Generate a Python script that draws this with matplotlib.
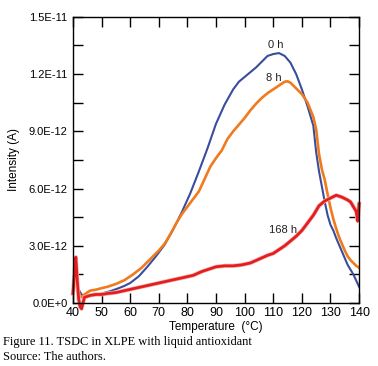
"""TSDC curves for XLPE with liquid antioxidant."""

import matplotlib

matplotlib.use("Agg")
import matplotlib.pyplot as plt
from matplotlib.ticker import MultipleLocator

plt.rcParams["font.family"] = ["Liberation Sans", "DejaVu Sans"]

# 0 h
temp_0h = [40, 41, 42, 43, 44, 46, 48, 50, 53, 56, 58, 60, 63, 66, 69, 72, 75, 78, 81,
           84, 87, 90, 93, 96, 98, 100, 102, 104, 106, 108, 110, 112, 114, 116, 118,
           120, 122, 124, 125, 126, 127, 128, 129, 130, 131, 132, 134, 136, 138, 140]
cur_0h = [1.2, 1.0, 0.7, 0.45, 0.35, 0.38, 0.42, 0.5, 0.62, 0.78, 0.9, 1.05, 1.4, 1.9,
          2.45, 3.05, 3.85, 4.75, 5.75, 6.9, 8.1, 9.4, 10.4, 11.2, 11.6, 11.85, 12.1,
          12.35, 12.65, 12.95, 13.05, 13.1, 12.95, 12.6, 12.0, 11.2, 10.3, 9.3, 7.9,
          6.9, 6.1, 5.3, 4.6, 4.1, 3.8, 3.4, 2.7, 2.0, 1.5, 0.85]

# 8 h
temp_8h = [40, 41, 42, 43, 44, 46, 48, 50, 52, 55, 58, 61, 64, 67, 70, 72, 74, 76, 78,
           80, 82, 84, 86, 88, 90, 92, 94, 96, 98, 100, 102, 104, 106, 108, 110, 112,
           114, 115, 116, 118, 120, 122, 124, 125, 126, 127, 128, 129, 130, 131, 132,
           133, 134, 135, 136, 137, 138, 139, 140]
cur_8h = [1.5, 1.1, 0.5, 0.3, 0.45, 0.65, 0.7, 0.78, 0.85, 1.0, 1.2, 1.5, 1.85, 2.3,
          2.75, 3.1, 3.6, 4.15, 4.65, 5.05, 5.45, 5.85, 6.5, 7.15, 7.6, 8.0, 8.6, 9.0,
          9.35, 9.7, 10.1, 10.45, 10.75, 11.0, 11.2, 11.4, 11.6, 11.62, 11.55, 11.25,
          10.95, 10.5, 9.75, 9.1, 7.8, 7.0, 6.45, 5.7, 5.0, 4.4, 3.9, 3.45, 3.1, 2.75,
          2.45, 2.25, 2.1, 1.95, 1.85]

# 168 h
temp_168h = [40, 40.5, 41, 41.5, 42, 42.5, 43, 43.5, 44, 46, 48, 50, 52, 55, 58, 61, 64,
             67, 70, 73, 76, 79, 82, 85, 88, 90, 93, 96, 99, 102, 105, 108, 110, 112,
             114, 116, 118, 120, 122, 124, 125, 126, 128, 130, 132, 134, 136, 137, 138,
             139, 139.5, 140]
cur_168h = [0.5, 1.5, 2.4, 1.2, 0.2, -0.2, -0.3, 0.0, 0.3, 0.4, 0.45, 0.45, 0.5, 0.55,
            0.65, 0.75, 0.85, 0.95, 1.05, 1.15, 1.25, 1.35, 1.45, 1.65, 1.8, 1.9, 1.95,
            1.95, 2.0, 2.1, 2.3, 2.5, 2.6, 2.8, 3.0, 3.25, 3.5, 3.8, 4.2, 4.6, 4.85, 5.1,
            5.35, 5.5, 5.65, 5.55, 5.4, 5.3, 5.05, 4.8, 4.3, 5.2]

ytick_vals = [0, 3, 6, 9, 12, 15]
ytick_labels = ["0.0E+0", "3.0E-12", "6.0E-12", "9.0E-12", "1.2E-11", "1.5E-11"]

fig = plt.figure(figsize=(3.78, 3.66), dpi=100)
ax = fig.add_axes([0.193, 0.172, 0.757, 0.782])

ax.plot(temp_0h, cur_0h, color="#3a4d9c", lw=1.5)
ax.plot(temp_8h, cur_8h, color="#f07a1e", lw=1.9)
ax.plot(temp_168h, cur_168h, color="#f4b4b4", lw=3.0, clip_on=False)
ax.plot(temp_168h, cur_168h, color="#e41e1e", lw=2.0, clip_on=False)

ax.text(111, 13.5, "0 h", fontsize=8, ha="center", va="center", color="#222222")
ax.text(110.3, 11.8, "8 h", fontsize=8, ha="center", va="center", color="#222222")
ax.text(113.5, 3.84, "168 h", fontsize=8, ha="center", va="center", color="#222222")

ax.set_xlim(40, 140)
ax.set_ylim(0, 15)
ax.xaxis.set_major_locator(MultipleLocator(10))
ax.set_yticks(ytick_vals)
ax.set_yticklabels(ytick_labels)
ax.yaxis.set_minor_locator(MultipleLocator(1.5))
ax.tick_params(axis="both", which="both", direction="in", length=7, width=1,
               top=True, right=True)
ax.tick_params(axis="x", labelsize=9, pad=3)
ax.tick_params(axis="y", labelsize=8, pad=4)
for s in ax.spines.values():
    s.set_linewidth(1)

ax.set_xlabel("Temperature  (\u00b0C)", fontsize=8.5, labelpad=1)
ax.set_ylabel("Intensity (A)", fontsize=8.5, labelpad=6)

fig.text(0.008, 0.066, "Figure 11. TSDC in XLPE with liquid antioxidant",
         family="Liberation Serif", fontsize=8.9, va="center")
fig.text(0.008, 0.025, "Source: The authors.",
         family="Liberation Serif", fontsize=8.9, va="center")

fig.savefig("out.png", dpi=100)
